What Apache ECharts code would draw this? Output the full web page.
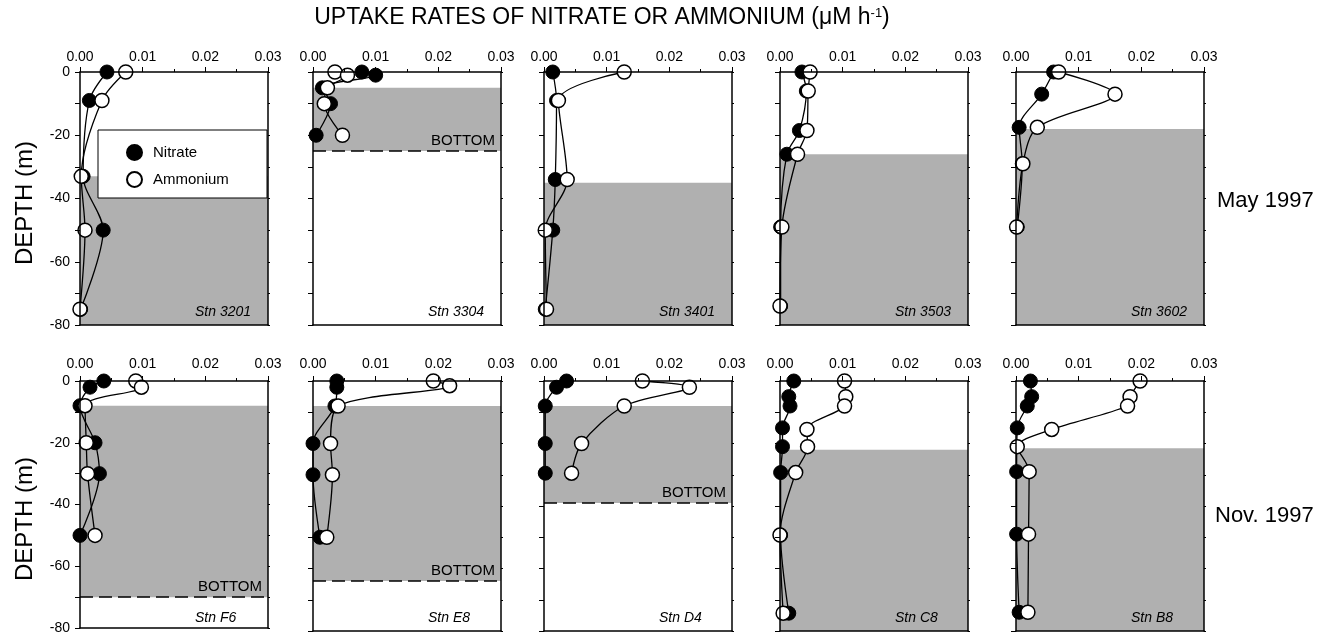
<!DOCTYPE html>
<html><head><meta charset="utf-8">
<script src="https://cdn.jsdelivr.net/npm/echarts@6/dist/echarts.min.js"></script>
<style>html,body{margin:0;padding:0;background:#fff}#c{width:1336px;height:635px}</style>
</head><body><div id="c"></div>
<script>
// ---------- DATA ----------
const titleText = 'UPTAKE RATES OF NITRATE OR AMMONIUM (μM h';
const titleSup = '-1';
const yAxisTitle = 'DEPTH (m)';
const rowLabels = ['May 1997', 'Nov. 1997'];
const seriesNames = ['Nitrate', 'Ammonium'];
const xMin = 0, xMax = 0.03, xStep = 0.01;
const yMin = -80, yMax = 0, yStep = 10;
const stationNames = ['Stn 3201','Stn 3304','Stn 3401','Stn 3503','Stn 3602','Stn F6','Stn E8','Stn D4','Stn C8','Stn B8'];

// [uptake rate, depth]
const nitrate3201 = [[0.0043,0],[0.0015,-9],[0.0005,-33],[0.0037,-50],[0.0001,-75]];
const ammonium3201 = [[0.0073,0],[0.0035,-9],[0.0002,-33],[0.0008,-50],[0.0000,-75]];
const nitrate3304 = [[0.0078,0],[0.0100,-1],[0.0015,-5],[0.0028,-10],[0.0005,-20]];
const ammonium3304 = [[0.0035,0],[0.0055,-1],[0.0023,-5],[0.0018,-10],[0.0047,-20]];
const nitrate3401 = [[0.0014,0],[0.0020,-9],[0.0018,-34],[0.0014,-50],[0.0002,-75]];
const ammonium3401 = [[0.0128,0],[0.0023,-9],[0.0037,-34],[0.0002,-50],[0.0004,-75]];
const nitrate3503 = [[0.0035,0],[0.0042,-6],[0.0031,-18.5],[0.0011,-26],[0.0001,-49],[0.0001,-74]];
const ammonium3503 = [[0.0048,0],[0.0045,-6],[0.0043,-18.5],[0.0028,-26],[0.0003,-49],[0.0000,-74]];
const nitrate3602 = [[0.0060,0],[0.0041,-7],[0.0005,-17.5],[0.0010,-29],[0.0002,-49]];
const ammonium3602 = [[0.0068,0],[0.0158,-7],[0.0034,-17.5],[0.0011,-29],[0.0001,-49]];
const nitrateF6 = [[0.0038,0],[0.0016,-2],[0.0000,-8],[0.0024,-20],[0.0031,-30],[0.0000,-50]];
const ammoniumF6 = [[0.0089,0],[0.0098,-2],[0.0008,-8],[0.0010,-20],[0.0012,-30],[0.0024,-50]];
const nitrateE8 = [[0.0038,0],[0.0038,-2],[0.0035,-8],[0.0000,-20],[0.0000,-30],[0.0011,-50]];
const ammoniumE8 = [[0.0192,0],[0.0218,-1.5],[0.0040,-8],[0.0028,-20],[0.0031,-30],[0.0022,-50]];
const nitrateD4 = [[0.0036,0],[0.0020,-2],[0.0002,-8],[0.0002,-20],[0.0002,-29.5]];
const ammoniumD4 = [[0.0157,0],[0.0232,-2],[0.0128,-8],[0.0060,-20],[0.0044,-29.5]];
const nitrateC8 = [[0.0022,0],[0.0014,-5],[0.0016,-8],[0.0004,-15],[0.0004,-21],[0.0001,-29.3],[0.0001,-49.3],[0.0014,-74.3]];
const ammoniumC8 = [[0.0103,0],[0.0105,-5],[0.0103,-8],[0.0043,-15.5],[0.0044,-21],[0.0025,-29.3],[0.0000,-49.3],[0.0005,-74.3]];
const nitrateB8 = [[0.0023,0],[0.0025,-5],[0.0018,-8],[0.0002,-15],[0.0001,-29],[0.0001,-49],[0.0005,-74]];
const ammoniumB8 = [[0.0198,0],[0.0182,-5],[0.0178,-8],[0.0057,-15.5],[0.0002,-21],[0.0021,-29],[0.0020,-49],[0.0019,-74]];

// shaded layer top depth, and seabed (dashed "BOTTOM") depth if shown
const shadeTop = [-33, -5, -35, -26, -18, -8, -8, -8, -22, -21.5];
const seabed = [null, -25, null, null, null, -70, -64, -39, null, null];
const bottomLabel = 'BOTTOM';

const nitrateAll = [nitrate3201, nitrate3304, nitrate3401, nitrate3503, nitrate3602, nitrateF6, nitrateE8, nitrateD4, nitrateC8, nitrateB8];
const ammoniumAll = [ammonium3201, ammonium3304, ammonium3401, ammonium3503, ammonium3602, ammoniumF6, ammoniumE8, ammoniumD4, ammoniumC8, ammoniumB8];

// ---------- LAYOUT ----------
const FONT = "'Liberation Sans', Arial, Helvetica, sans-serif";
const colLeft = [80, 313, 544, 780, 1016];
const rowTop = [72, 381];
const rowH = [253, 250];
const panelW = 188;
const shadeColor = '#b0b0b0';
const legendBox = {x: 98, y: 130, w: 169, h: 68};

const grids = [], xAxes = [], yAxes = [], series = [], graphics = [];
for (let i = 0; i < 10; i++) {
  const r = Math.floor(i / 5), c = i % 5;
  grids.push({left: colLeft[c], top: rowTop[r], width: panelW, height: rowH[r], containLabel: false});
}
for (let i = 0; i < 10; i++) {
  const r = Math.floor(i / 5);
  xAxes.push({
    type: 'value', gridIndex: i, position: 'top', min: xMin, max: xMax, interval: xStep, z: 10,
    axisLine: {show: true, onZero: false, lineStyle: {color: '#000', width: 1.5}},
    axisTick: {show: true, inside: false, length: 5, lineStyle: {color: '#000', width: 1}},
    minorTick: {show: true, splitNumber: 2, length: 3, lineStyle: {color: '#000', width: 1}},
    splitLine: {show: false},
    axisLabel: {show: true, margin: r === 0 ? 8 : 10, fontSize: 14, color: '#000', fontFamily: FONT,
      formatter: v => v.toFixed(2)}
  });
}
for (let i = 0; i < 10; i++) {
  xAxes.push({
    type: 'value', gridIndex: i, position: 'bottom', min: xMin, max: xMax, interval: xStep, z: 10,
    axisLine: {show: true, onZero: false, lineStyle: {color: '#000', width: 1.5}},
    axisTick: {show: false}, axisLabel: {show: false}, splitLine: {show: false}
  });
}
for (let i = 0; i < 10; i++) {
  const c = i % 5;
  yAxes.push({
    type: 'value', gridIndex: i, position: 'left', min: yMin, max: yMax, interval: yStep, z: 10,
    axisLine: {show: true, onZero: false, lineStyle: {color: '#000', width: 1.5}},
    axisTick: {show: true, inside: false, length: 5, lineStyle: {color: '#000', width: 1}},
    splitLine: {show: false},
    axisLabel: {show: c === 0, margin: 10, fontSize: 14, color: '#000', fontFamily: FONT,
      formatter: v => (Math.round(v) % 20 === 0 ? String(Math.round(v)) : '')}
  });
}
for (let i = 0; i < 10; i++) {
  yAxes.push({
    type: 'value', gridIndex: i, position: 'right', min: yMin, max: yMax, interval: yStep, z: 10,
    axisLine: {show: true, onZero: false, lineStyle: {color: '#000', width: 1.5}},
    axisTick: {show: true, inside: false, length: 2, lineStyle: {color: '#000', width: 1}},
    axisLabel: {show: false}, splitLine: {show: false}
  });
}

for (let i = 0; i < 10; i++) {
  const shadeBottom = seabed[i] !== null ? seabed[i] : yMin;
  const nit = {
    type: 'line', name: seriesNames[0], xAxisIndex: i, yAxisIndex: i, data: nitrateAll[i],
    smooth: 0.3, symbol: 'circle', symbolSize: 14, z: 3, animation: false,
    emphasis: {disabled: true},
    itemStyle: {color: '#000', borderColor: '#000', borderWidth: 1},
    lineStyle: {color: '#000', width: 1.3},
    markArea: {silent: true, itemStyle: {color: shadeColor},
      data: [[{yAxis: shadeTop[i]}, {yAxis: shadeBottom}]]}
  };
  if (seabed[i] !== null) {
    nit.markLine = {silent: true, symbol: ['none', 'none'], animation: false,
      lineStyle: {color: '#000', width: 1.5, type: [13, 6]},
      label: {show: true, position: 'insideEndTop', distance: [6, 3], formatter: bottomLabel,
        fontSize: 15, color: '#000', fontFamily: FONT},
      data: [{yAxis: seabed[i]}]};
  }
  series.push(nit);
  series.push({
    type: 'line', name: seriesNames[1], xAxisIndex: i, yAxisIndex: i, data: ammoniumAll[i],
    smooth: 0.3, symbol: 'circle', symbolSize: 14, z: 4, animation: false,
    emphasis: {disabled: true},
    itemStyle: {color: '#fff', borderColor: '#000', borderWidth: 1.5},
    lineStyle: {color: '#000', width: 1.3}
  });
  const r = Math.floor(i / 5), c = i % 5;
  graphics.push({type: 'text', z: 100, x: colLeft[c] + 115, y: rowTop[r] + rowH[r] - 13,
    style: {text: stationNames[i], fontSize: 14, fontStyle: 'italic', fontFamily: FONT, fill: '#000',
      textAlign: 'left', textVerticalAlign: 'middle'}});
}

graphics.push({type: 'rect', z: 15, shape: {x: legendBox.x, y: legendBox.y, width: legendBox.w, height: legendBox.h},
  style: {fill: '#fff', stroke: '#000', lineWidth: 1}});
graphics.push({type: 'text', z: 100, x: 602, y: 18,
  style: {text: '{a|' + titleText + '}{s|' + titleSup + '}{a|)}', textAlign: 'center', textVerticalAlign: 'middle',
    rich: {a: {fontSize: 23, fontFamily: FONT, fill: '#000', color: '#000'},
           s: {fontSize: 13, fontFamily: FONT, verticalAlign: 'top', fill: '#000', color: '#000', padding: [0, 0, 10, 0]}}}});
graphics.push({type: 'text', z: 100, x: 25, y: 203, rotation: Math.PI / 2,
  style: {text: yAxisTitle, fontSize: 24, fontFamily: FONT, fill: '#000', textAlign: 'center', textVerticalAlign: 'middle'}});
graphics.push({type: 'text', z: 100, x: 25, y: 519, rotation: Math.PI / 2,
  style: {text: yAxisTitle, fontSize: 24, fontFamily: FONT, fill: '#000', textAlign: 'center', textVerticalAlign: 'middle'}});
graphics.push({type: 'text', z: 100, x: 1217, y: 201,
  style: {text: rowLabels[0], fontSize: 22, fontFamily: FONT, fill: '#000', textAlign: 'left', textVerticalAlign: 'middle'}});
graphics.push({type: 'text', z: 100, x: 1215, y: 516,
  style: {text: rowLabels[1], fontSize: 22, fontFamily: FONT, fill: '#000', textAlign: 'left', textVerticalAlign: 'middle'}});

const chart = echarts.init(document.getElementById('c'), null, {renderer: 'canvas'});
chart.setOption({
  backgroundColor: '#fff',
  animation: false,
  grid: grids,
  xAxis: xAxes,
  yAxis: yAxes,
  legend: {
    data: [{name: seriesNames[0], icon: 'circle'}, {name: seriesNames[1], icon: 'circle'}],
    orient: 'vertical', left: legendBox.x + 28, top: legendBox.y + 14, z: 20,
    padding: 0, itemGap: 10, itemWidth: 15, itemHeight: 15,
    selectedMode: false,
    textStyle: {fontSize: 15, color: '#000', fontFamily: FONT, padding: [0, 0, 0, 6]}
  },
  graphic: graphics,
  series: series
});
</script>
</body></html>
